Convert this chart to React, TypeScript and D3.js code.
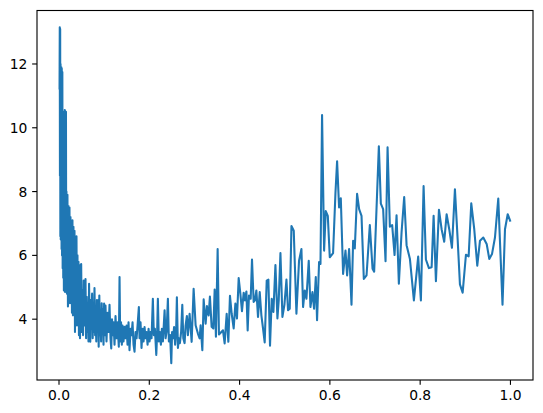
import React from 'react';
import * as d3 from 'd3';

// learning rate (x) and loss (y)
const lr = [
  0.0012, 0.0017, 0.0021, 0.0026, 0.0030, 0.0034, 0.0039, 0.0043, 0.0048, 0.0052,
  0.0057, 0.0061, 0.0068, 0.0074, 0.0081, 0.0088, 0.0094, 0.0101, 0.0108, 0.0114,
  0.0121, 0.0128, 0.0134, 0.0141, 0.0147, 0.0154, 0.0161,
  0.0165, 0.0176, 0.0187, 0.0198, 0.0210, 0.0221, 0.0232, 0.0243, 0.0254, 0.0265,
  0.0276, 0.0287, 0.0298, 0.0309, 0.0320, 0.0332, 0.0343, 0.0354, 0.0365, 0.0376,
  0.0387, 0.0398, 0.0409, 0.0420, 0.0431, 0.0442, 0.0454, 0.0465,
  0.0476, 0.0491, 0.0505, 0.0520, 0.0533, 0.0547, 0.0560, 0.0573, 0.0587, 0.0600,
  0.0613, 0.0627, 0.0640, 0.0653, 0.0666, 0.0680, 0.0693, 0.0706, 0.0720, 0.0733,
  0.0746, 0.0760, 0.0773, 0.0786, 0.0800, 0.0813, 0.0826, 0.0839, 0.0853, 0.0866,
  0.0879, 0.0893, 0.0906, 0.0919, 0.0933, 0.0946, 0.0959, 0.0972, 0.0986, 0.0999,
  0.1012,
  0.1030, 0.1052, 0.1075, 0.1097, 0.1119, 0.1141, 0.1157, 0.1174, 0.1192, 0.1208,
  0.1230, 0.1252, 0.1274, 0.1296, 0.1325, 0.1341, 0.1356, 0.1374, 0.1392, 0.1407,
  0.1429, 0.1452, 0.1474, 0.1496, 0.1518, 0.1540, 0.1562, 0.1585, 0.1607, 0.1629,
  0.1651, 0.1673, 0.1695, 0.1718, 0.1740, 0.1769, 0.1784, 0.1806, 0.1828, 0.1851,
  0.1873, 0.1895, 0.1917, 0.1939, 0.1962, 0.1984, 0.2006, 0.2028, 0.2050, 0.2079,
  0.2101, 0.2124, 0.2155, 0.2172, 0.2190, 0.2212, 0.2234, 0.2257, 0.2279, 0.2301,
  0.2339, 0.2361, 0.2383, 0.2412, 0.2434, 0.2461, 0.2487, 0.2505, 0.2527, 0.2549,
  0.2572, 0.2594, 0.2611, 0.2634, 0.2656, 0.2678, 0.2705, 0.2731, 0.2753, 0.2782,
  0.2804, 0.2833, 0.2855,
  0.2893, 0.2938, 0.2982, 0.3026, 0.3077, 0.3115, 0.3137, 0.3175, 0.3204, 0.3248,
  0.3277, 0.3314, 0.3343, 0.3381, 0.3419, 0.3448, 0.3476, 0.3514, 0.3543, 0.3596,
  0.3632, 0.3669, 0.3714, 0.3751, 0.3787, 0.3825, 0.3869, 0.3907, 0.3942, 0.3980,
  0.4017, 0.4053, 0.4091, 0.4120, 0.4151, 0.4179, 0.4208, 0.4246, 0.4275, 0.4312,
  0.4341, 0.4372, 0.4408, 0.4446, 0.4483, 0.4519, 0.4556, 0.4601, 0.4638, 0.4674,
  0.4712, 0.4749, 0.4794, 0.4838, 0.4867, 0.4905, 0.4949, 0.4993, 0.5038, 0.5073,
  0.5111, 0.5149, 0.5200, 0.5259, 0.5317, 0.5370, 0.5406, 0.5444, 0.5481, 0.5532,
  0.5570, 0.5614, 0.5650, 0.5688, 0.5716, 0.5761, 0.5792,
  0.5827, 0.5872, 0.5909, 0.5954, 0.5998, 0.6071, 0.6124, 0.6160, 0.6204, 0.6242,
  0.6293, 0.6346, 0.6382, 0.6426, 0.6479, 0.6515, 0.6552, 0.6603, 0.6648, 0.6701,
  0.6752, 0.6812, 0.6885, 0.6945, 0.6981, 0.7085, 0.7129, 0.7180, 0.7233, 0.7278,
  0.7329, 0.7380, 0.7433, 0.7477, 0.7528, 0.7588, 0.7646, 0.7699,
  0.7773, 0.7861, 0.7956, 0.8016, 0.8076, 0.8127, 0.8194, 0.8254, 0.8298, 0.8349,
  0.8416, 0.8475, 0.8533, 0.8586, 0.8644, 0.8704, 0.8770, 0.8830, 0.8881, 0.8941,
  0.9014, 0.9074, 0.9132, 0.9198, 0.9265, 0.9325, 0.9398, 0.9473, 0.9531, 0.9591,
  0.9657, 0.9730, 0.9824, 0.9879, 0.9939, 1.0,
];

const loss = [
  11.2, 13.15, 8.5, 13.1, 6.6, 12.0, 6.5, 11.8, 7.0, 11.9,
  6.2, 11.86, 6.0, 11.75, 5.6, 10.2, 5.3, 9.5, 4.9, 10.5,
  5.2, 10.56, 4.85, 9.0, 5.5, 10.5, 5.0,
  8.0, 4.8, 7.9, 4.4, 7.55, 5.0, 7.5, 4.5, 7.2, 4.9,
  7.0, 4.2, 7.1, 4.12, 6.9, 4.4, 6.77, 3.6, 6.3, 4.0,
  6.6, 3.8, 6.0, 3.9, 5.8, 3.5, 5.7, 3.4,
  4.6, 5.73, 3.6, 4.9, 3.5, 5.21, 3.8, 4.4, 5.26, 3.4,
  4.7, 3.6, 4.5, 3.3, 5.11, 3.9, 3.29, 4.6, 3.7, 4.8,
  3.4, 4.3, 3.6, 4.98, 3.5, 4.2, 3.3, 4.6, 3.7, 4.59,
  3.14, 4.74, 3.5, 4.0, 3.3, 4.5, 3.6, 4.3, 3.2, 4.49,
  3.5,
  4.43, 3.3, 4.2, 3.6, 4.45, 3.4, 3.08, 4.0, 3.5, 3.9,
  3.2, 4.1, 3.4, 3.9, 3.14, 5.32, 3.3, 3.9, 3.2, 3.8,
  3.3, 3.76, 3.4, 3.8, 3.2, 3.9, 3.03, 3.7, 3.5, 3.9,
  3.2, 2.98, 3.6, 3.4, 3.8, 4.38, 3.4, 3.9, 3.1, 3.7,
  3.3, 3.75, 3.4, 3.6, 3.2, 3.7, 3.3, 3.6, 3.4, 4.64,
  3.5, 3.7, 2.88, 3.5, 4.64, 3.3, 3.6, 3.2, 3.7, 3.3,
  4.28, 3.4, 3.6, 4.64, 3.3, 3.5, 2.62, 3.6, 3.4, 3.75,
  3.2, 3.6, 4.69, 3.1, 3.4, 3.25, 3.6, 4.45, 3.4, 3.25,
  3.8, 4.1, 3.5,
  4.17, 3.29, 4.95, 3.81, 3.55, 3.4, 3.81, 3.03, 4.62, 3.86,
  4.41, 4.12, 4.71, 3.76, 3.71, 4.93, 3.45, 6.2, 3.52, 3.6,
  3.65, 3.24, 4.17, 3.29, 4.73, 4.17, 3.71, 4.49, 4.02, 5.29,
  4.8, 4.25, 4.83, 4.59, 4.87, 3.65, 4.74, 4.64, 5.87, 4.54,
  4.59, 4.9, 4.07, 4.85, 4.12, 3.71, 3.27, 5.21, 5.24, 3.17,
  4.64, 4.23, 5.7, 4.02, 4.59, 6.07, 4.07, 4.45, 5.24, 4.28,
  4.33, 6.92, 6.77, 4.17, 5.83, 6.2, 4.38, 4.9, 4.64, 5.83,
  4.38, 4.85, 4.33, 5.32, 3.97, 5.79, 5.73,
  10.4, 6.15, 7.39, 7.24, 5.94, 6.07, 7.97, 8.95, 7.5, 7.79,
  5.42, 6.15, 5.37, 6.2, 4.45, 6.46, 6.22, 7.93, 7.45, 7.24,
  5.26, 5.37, 6.95, 5.58, 5.49, 9.42, 7.62, 7.45, 5.82, 9.39,
  6.9, 6.95, 6.01, 7.26, 5.11, 6.72, 7.83, 6.32,
  5.89, 4.59, 5.96, 4.59, 8.17, 5.87, 5.6, 5.63, 7.24, 5.19,
  7.43, 6.82, 6.43, 7.29, 6.82, 6.24, 8.07, 6.51, 5.09, 4.83,
  6.02, 5.97, 7.63, 6.82, 5.68, 6.46, 6.56, 6.36, 5.89, 6.04,
  6.56, 7.78, 4.45, 6.82, 7.29, 7.06,
];

const xTicks = [0, 0.2, 0.4, 0.6, 0.8, 1.0];
const xTickLabels = ['0.0', '0.2', '0.4', '0.6', '0.8', '1.0'];
const yTicks = [4, 6, 8, 10, 12];
const yTickLabels = ['4', '6', '8', '10', '12'];

const W = 543;
const H = 413;
const margin = { left: 37, top: 10.5, right: 10, bottom: 33 };

const App: React.FC = () => {
  const innerW = W - margin.left - margin.right;
  const innerH = H - margin.top - margin.bottom;

  // matplotlib-style 5% margins around the data
  const [x0, x1] = d3.extent(lr) as [number, number];
  const [y0, y1] = d3.extent(loss) as [number, number];
  const px = (x1 - x0) * 0.05;
  const py = (y1 - y0) * 0.05;

  const x = d3.scaleLinear().domain([x0 - px, x1 + px]).range([0, innerW]);
  const y = d3.scaleLinear().domain([y0 - py, y1 + py]).range([innerH, 0]);

  const points: [number, number][] = lr.map((d, i) => [d, loss[i]]);
  const line = d3.line<[number, number]>()
    .x(d => x(d[0]))
    .y(d => y(d[1]));

  // sizes in points at 100 dpi
  const pt = 100 / 72;
  const tickLen = 3.5 * pt;
  const pad = 3.5 * pt;
  const font = { fontFamily: '"DejaVu Sans", sans-serif', fontSize: 10 * pt };

  return (
    <svg width={W} height={H} style={{ position: 'absolute', left: 0, top: 0, background: '#fff' }}>
      <g transform={`translate(${margin.left},${margin.top})`}>
        <path
          d={line(points) ?? ''}
          fill="none"
          stroke="#1f77b4"
          strokeWidth={1.5 * pt}
          strokeLinejoin="round"
        />
        <rect x={0} y={0} width={innerW} height={innerH} fill="none" stroke="#000" strokeWidth={0.8 * pt} />

        {xTicks.map((t, i) => (
          <g key={`x${i}`} transform={`translate(${x(t)},${innerH})`}>
            <line y1={0} y2={tickLen} stroke="#000" strokeWidth={0.8 * pt} />
            <text y={tickLen + pad} dy="0.76em" textAnchor="middle" fill="#000" style={font}>
              {xTickLabels[i]}
            </text>
          </g>
        ))}

        {yTicks.map((t, i) => (
          <g key={`y${i}`} transform={`translate(0,${y(t)})`}>
            <line x1={0} x2={-tickLen} stroke="#000" strokeWidth={0.8 * pt} />
            <text x={-tickLen - pad} dy="0.36em" textAnchor="end" fill="#000" style={font}>
              {yTickLabels[i]}
            </text>
          </g>
        ))}
      </g>
    </svg>
  );
};

export default App;
